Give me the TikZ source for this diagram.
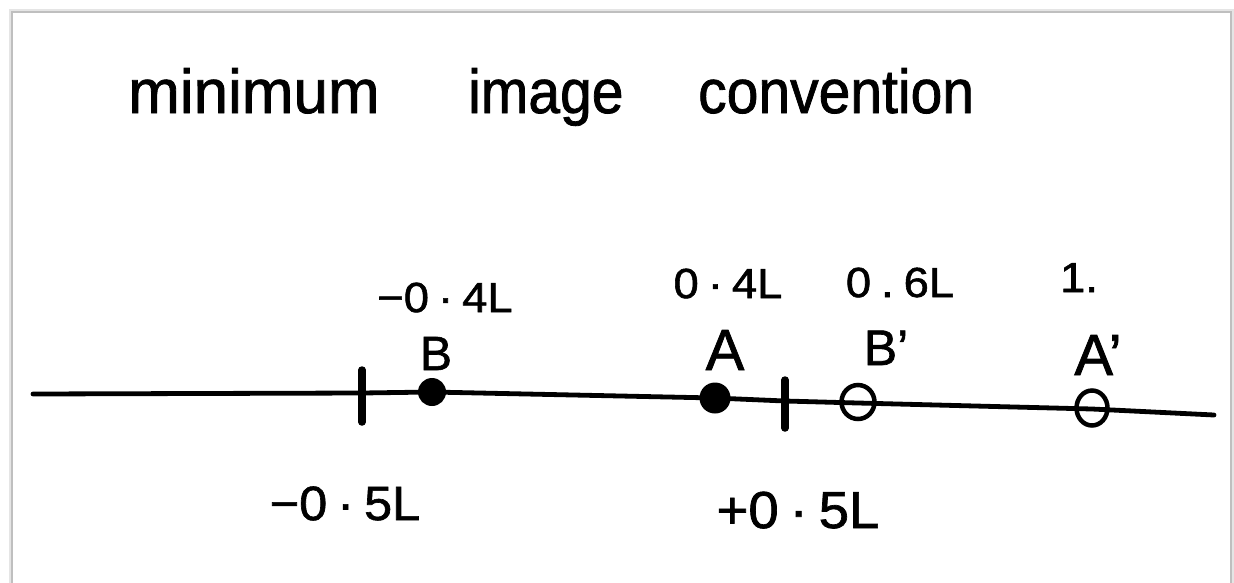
\documentclass[tikz,border=0pt]{standalone}
\usepackage{fontspec}
\usetikzlibrary{shapes.geometric}
\setmainfont{Liberation Sans}
\newfontfamily\pen[FakeBold=1.3]{Liberation Sans}
\newcommand\cdt{\kern.2em·\kern.2em}
\newcommand\ldt{\kern.22em.\kern.22em}
\begin{document}
\begin{tikzpicture}[x=1pt,y=-1pt,
  ink/.style={black,line cap=round,line join=round},
  title/.style={anchor=base west,inner sep=0pt,font=\pen\fontsize{62}{70}\selectfont},
  val/.style={anchor=base,inner sep=0pt,xscale=1.08,font=\pen\fontsize{42}{48}\selectfont},
  bigval/.style={anchor=base,inner sep=0pt,xscale=1.05,font=\pen\fontsize{48}{56}\selectfont},
  pname/.style={anchor=base,inner sep=0pt,font=\pen\fontsize{50}{56}\selectfont},
  full/.style={circle,fill=black,inner sep=0pt},
  hollow/.style={ellipse,draw=black,line width=4.5,inner sep=0pt,minimum width=33,minimum height=34}]
\useasboundingbox (0,0) rectangle (1234,582);
% sheet edge
\draw[black!10,line width=4] (11,590) -- (11,11) -- (1232,11) -- (1232,590);
\draw[black!25,line width=1.6] (12,590) -- (12,12) -- (1231,12) -- (1231,590);

% title
\node[title] (w1) at (128,113) {minimum};
\node[title,xscale=0.92] (w2) at (468,113) {image};
\node[title,xscale=0.92] (w3) at (698,113) {convention};

% the axis
\coordinate (axL) at (33,394);
\coordinate (k1) at (362,393);
\coordinate (k2) at (785,401);
\coordinate (axR) at (1214,415);
\draw[ink,line width=4.8] (axL) -- (k1) -- (432,392) -- (715,398) -- (k2) -- (858,403) -- (1092,409) -- (axR);

% box edges at -L/2 and +L/2
\coordinate (k1t) at (362,370);
\coordinate (k1b) at (362,422);
\coordinate (k2t) at (785,380);
\coordinate (k2b) at (785,428);
\draw[ink,line width=7.5] (k1t) -- (k1b);
\draw[ink,line width=7.5] (k2t) -- (k2b);

% particles and their images
\node[full,minimum size=28] (B) at (432,392) {};
\node[full,minimum size=31] (A) at (715,398) {};
\node[hollow] (Bi) at (858,402) {};
\node[hollow,minimum width=31,minimum height=35] (Ai) at (1092,408) {};

% names
\node[pname,font=\pen\fontsize{48}{54}\selectfont] (nB) at (436,370) {B};
\node[pname,font=\pen\fontsize{58}{64}\selectfont] (nA) at (725,370) {A};
\node[pname] (nBi) at (886,365) {B’};
\node[pname,font=\pen\fontsize{58}{64}\selectfont] (nAi) at (1098,375) {A’};

% positions
\node[val] (vB) at (445,312) {−0\cdt4L};
\node[val] (vA) at (728,298) {0\cdt4L};
\node[val] (vBi) at (900,297) {0\ldt6L};
\node[val] (vAi) at (1079,292) {1.};
\node[bigval] (lo) at (345,520) {−0\cdt5L};
\node[bigval,font=\pen\fontsize{52}{60}\selectfont] (hi) at (798,528) {+0\cdt5L};
\end{tikzpicture}
\end{document}
